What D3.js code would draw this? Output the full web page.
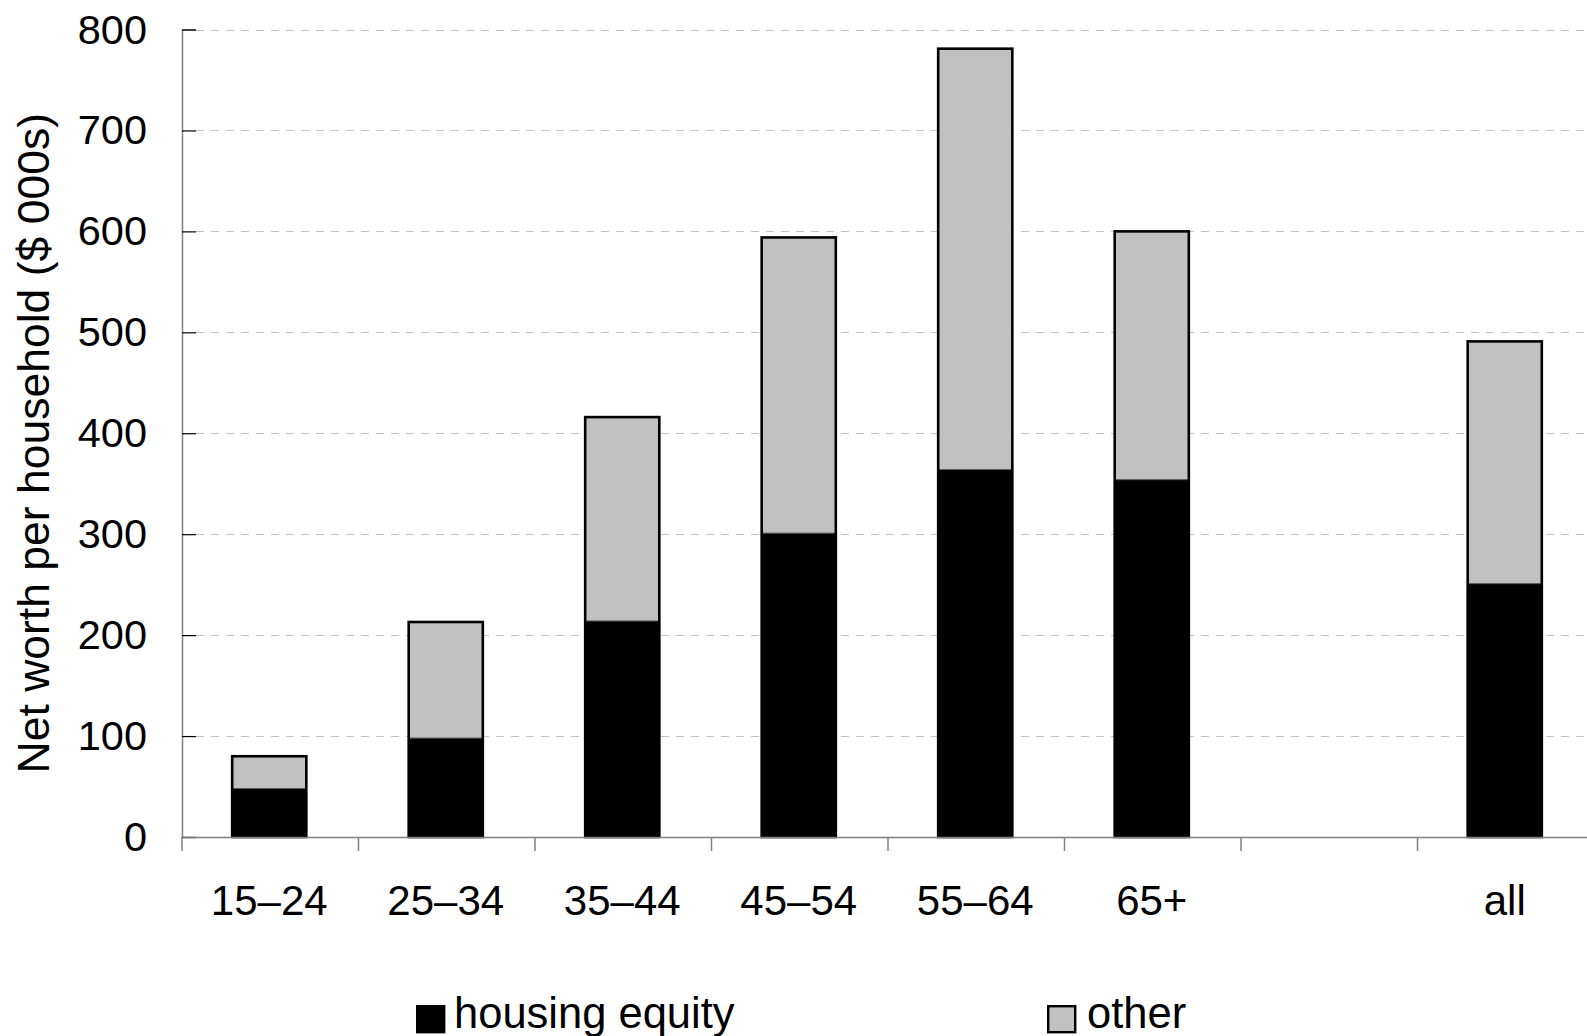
<!DOCTYPE html>
<html>
<head>
<meta charset="utf-8">
<script src="https://cdn.jsdelivr.net/npm/d3@7"></script>
<style>
  body { margin: 0; background: #fff; overflow: hidden; }
  svg { display: block; font-family: "Liberation Sans", Arial, sans-serif; }
</style>
</head>
<body>
<div id="chart"></div>
<script>
// age groups, the blank slot is a spacer before "all"
const categories = ['15–24', '25–34', '35–44', '45–54', '55–64', '65+', '', 'all']
const housingEquity = [48, 98, 214, 301, 364, 354, null, 251]
const other = [32, 115, 202, 293, 417, 246, null, 240]
const yTicks = [0, 100, 200, 300, 400, 500, 600, 700, 800]
const seriesNames = ['housing equity', 'other']

const width = 1587
const height = 1036
const plotLeft = 182
const plotTop = 29.5
const plotBottom = 837

const svg = d3.select('#chart').append('svg')
  .attr('width', width)
  .attr('height', height)

const x = d3.scaleBand()
  .domain(d3.range(categories.length))
  .range([plotLeft, plotLeft + 176.5 * categories.length])
  .paddingInner(0)

const y = d3.scaleLinear()
  .domain([0, 800])
  .range([plotBottom, plotTop])

// dashed gridlines
svg.append('g')
  .selectAll('line')
  .data(yTicks.filter(d => d > 0))
  .join('line')
  .attr('x1', plotLeft + 14)
  .attr('x2', width)
  .attr('y1', d => Math.round(y(d)) + 0.5)
  .attr('y2', d => Math.round(y(d)) + 0.5)
  .attr('stroke', '#c4c4c4')
  .attr('stroke-width', 1.2)
  .attr('stroke-dasharray', '8,7')

// y axis
const yAxis = svg.append('g')
  .attr('transform', `translate(${plotLeft},0)`)
  .call(d3.axisRight(y).tickValues(yTicks).tickSize(14).tickFormat(''))
yAxis.select('.domain').attr('stroke', '#808080').attr('stroke-width', 1.5)
yAxis.selectAll('.tick line').attr('stroke', '#000').attr('stroke-width', 1.2)

svg.append('g')
  .selectAll('text')
  .data(yTicks)
  .join('text')
  .attr('x', 147)
  .attr('y', d => y(d) + 14)
  .attr('text-anchor', 'end')
  .attr('font-size', 41.5)
  .attr('fill', '#000')
  .text(d => d)

svg.append('text')
  .attr('transform', `translate(49,${(plotTop + plotBottom) / 2 + 10}) rotate(-90)`)
  .attr('text-anchor', 'middle')
  .attr('font-size', 44.5)
  .attr('fill', '#000')
  .text('Net worth per household ($ 000s)')

// stacked bars
const barW = x.bandwidth() * 0.42
const bars = svg.append('g')
categories.forEach((c, i) => {
  if (housingEquity[i] == null) return
  const cx = x(i) + x.bandwidth() / 2 - 1
  const h = housingEquity[i]
  const t = h + other[i]
  bars.append('rect')
    .attr('x', cx - barW / 2)
    .attr('y', y(t))
    .attr('width', barW)
    .attr('height', y(h) - y(t))
    .attr('fill', '#c0c0c0')
  bars.append('rect')
    .attr('x', cx - barW / 2)
    .attr('y', y(h))
    .attr('width', barW)
    .attr('height', y(0) - y(h))
    .attr('fill', '#000')
  bars.append('line')
    .attr('x1', cx - barW / 2)
    .attr('x2', cx + barW / 2)
    .attr('y1', y(h))
    .attr('y2', y(h))
    .attr('stroke', '#555')
    .attr('stroke-width', 1)
  bars.append('rect')
    .attr('x', cx - barW / 2)
    .attr('y', y(t))
    .attr('width', barW)
    .attr('height', y(0) - y(t))
    .attr('fill', 'none')
    .attr('stroke', '#000')
    .attr('stroke-width', 2.6)
})

// x axis
const xAxis = svg.append('g')
  .attr('transform', `translate(0,${plotBottom})`)
  .call(d3.axisBottom(x).tickSize(0).tickFormat(''))
xAxis.select('.domain').attr('stroke', '#808080').attr('stroke-width', 1.5)

svg.append('g')
  .selectAll('line')
  .data(d3.range(categories.length))
  .join('line')
  .attr('x1', d => x(d))
  .attr('x2', d => x(d))
  .attr('y1', plotBottom)
  .attr('y2', plotBottom + 14)
  .attr('stroke', '#808080')
  .attr('stroke-width', 1.5)

svg.append('g')
  .selectAll('text')
  .data(categories)
  .join('text')
  .attr('x', (d, i) => x(i) + x.bandwidth() / 2 - 1)
  .attr('y', 915)
  .attr('text-anchor', 'middle')
  .attr('font-size', 42)
  .attr('fill', '#000')
  .text(d => d)

// legend
const legendX = [416, 1047]
const legendFill = ['#000', '#c0c0c0']
seriesNames.forEach((name, i) => {
  const g = svg.append('g').attr('transform', `translate(${legendX[i]},1005)`)
  g.append('rect')
    .attr('x', 1.2)
    .attr('y', 1.2)
    .attr('width', 27)
    .attr('height', 26)
    .attr('fill', legendFill[i])
    .attr('stroke', '#000')
    .attr('stroke-width', 2.4)
  g.append('text')
    .attr('x', i === 0 ? 38 : 40)
    .attr('y', 22.5)
    .attr('font-size', 43.5)
    .attr('fill', '#000')
    .text(name)
})
</script>
</body>
</html>
